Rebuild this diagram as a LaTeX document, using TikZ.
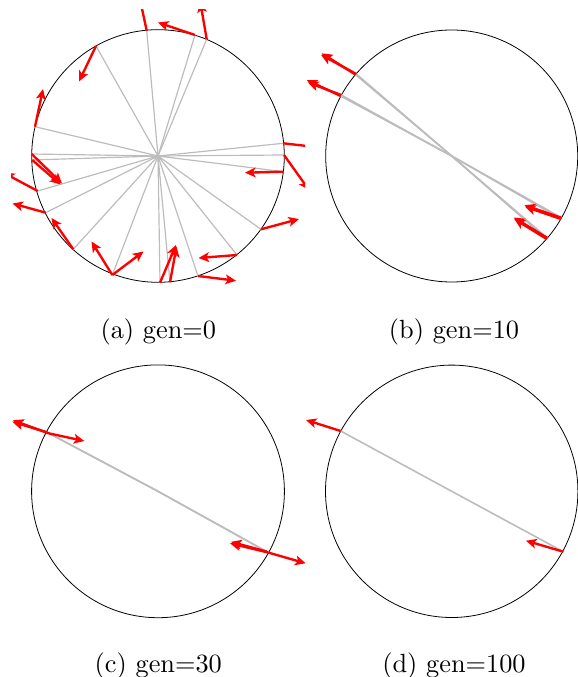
\documentclass[tikz,border=0pt]{standalone}
\usetikzlibrary{arrows.meta}
\definecolor{raygray}{RGB}{188,188,188}
\begin{document}
\begin{tikzpicture}[x=0.38pt,y=-0.38pt,
  circ/.style={draw=black,line width=0.3pt},
  ray/.style={draw=raygray,line width=0.45pt},
  bray/.style={draw=raygray,line width=0.6pt},
  vel/.style={draw=red,line width=0.9pt,-{Stealth[length=4pt,width=3.7pt,inset=1pt]}},
  captxt/.style={anchor=base,font=\normalsize}]
\useasboundingbox (0,0) rectangle (578,677);

% ---------- (a) gen=0 ----------
\begin{scope}
\clip (11,10) rectangle (305,303);
\coordinate (A) at (158,156);
\draw[circ] (A) circle[radius=126.3];
\foreach \n/\p in {1/{146.7,30.7},2/{195,35},3/{206.7,39.3},4/{96,46},5/{35,126.7},
  6/{31.7,154},7/{32.2,160},8/{37.7,191},9/{45.7,212.7},10/{73.3,249.3},11/{112.3,275},
  12/{160,282.7},13/{170,282.3},14/{198,276},15/{237,255},16/{261,229.3},
  17/{283.3,171.7},18/{284,155},19/{283.3,143.3}}{
  \coordinate (a\n) at (\p);
  \draw[ray] (A) -- (a\n);
}
\foreach \n/\q in {1/{139.5,-3},2/{158,22.5},3/{200.3,2},4/{79,81.5},5/{43,89},
  6/{62,183.5},7/{60.5,184.5},8/{4,173},9/{12.5,203.5},10/{51.5,218},11/{91.5,241.5},
  12/{176,245},13/{176.5,246.5},14/{236,280.7},15/{198.5,258},16/{299,219},
  17/{245,172.7},18/{309,190},19/{320,147.5}}{
  \coordinate (va\n) at (\q);
  \draw[vel] (a\n) -- (va\n);
}
\coordinate (va11b) at (143.5,251.5);
\draw[vel] (a11) -- (va11b);
\end{scope}

% ---------- (b) gen=10 ----------
\begin{scope}
\clip (304.7,10) rectangle (598.7,303);
\coordinate (B) at (451.7,156);
\draw[circ] (B) circle[radius=126];
\coordinate (b1) at (355.5,74.6);   \coordinate (b1x) at (356.3,74);
\coordinate (b2) at (340.7,96);     \coordinate (b2x) at (341.2,95);
\coordinate (b3) at (561,219);      \coordinate (b3x) at (561.5,217.8);
\coordinate (b4) at (546.7,239);    \coordinate (b4x) at (547.4,238);
\foreach \n in {b1,b1x,b2,b2x,b3,b3x,b4,b4x}{\draw[bray] (B) -- (\n);}
\coordinate (vb1) at (321.7,53.3);  \coordinate (vb1x) at (321,54.8);
\coordinate (vb2) at (306.7,80);    \coordinate (vb2x) at (308,82.5);
\coordinate (vb3) at (525,206.7);   \coordinate (vb3x) at (524.5,205.2);
\coordinate (vb4) at (514.3,219);   \coordinate (vb4x) at (513.8,217.5);
\draw[vel] (b1) -- (vb1); \draw[vel] (b1x) -- (vb1x);
\draw[vel] (b2) -- (vb2); \draw[vel] (b2x) -- (vb2x);
\draw[vel] (b3) -- (vb3); \draw[vel] (b3x) -- (vb3x);
\draw[vel] (b4) -- (vb4); \draw[vel] (b4x) -- (vb4x);
\end{scope}

% ---------- (c) gen=30 ----------
\begin{scope}
\clip (11,344) rectangle (305,638);
\coordinate (C) at (158,491.3);
\draw[circ] (C) circle[radius=126.4];
\coordinate (c1) at (47.5,432.5);  \coordinate (c1x) at (49,433.4);
\coordinate (c2) at (268,552.5);   \coordinate (c2x) at (266.8,551.6);
\foreach \n in {c1,c1x,c2,c2x}{\draw[bray] (C) -- (\n);}
\coordinate (vc1) at (12.3,421.7); \coordinate (vc1x) at (13,420.3);
\coordinate (vc1r) at (84.3,441);
\coordinate (vc2) at (230,543.3);  \coordinate (vc2x) at (231,541.8);
\coordinate (vc2r) at (305.7,563.3);
\draw[vel] (c1) -- (vc1); \draw[vel] (c1x) -- (vc1x);
\draw[vel] (c1x) -- (vc1r);
\draw[vel] (c2) -- (vc2); \draw[vel] (c2x) -- (vc2x);
\draw[vel] (c2) -- (vc2r);
\end{scope}

% ---------- (d) gen=100 ----------
\begin{scope}
\clip (304.7,344) rectangle (598.7,638);
\coordinate (D) at (451.7,491.3);
\draw[circ] (D) circle[radius=126.2];
\coordinate (d1) at (340.7,431);
\coordinate (d2) at (563.3,551.7);
\draw[bray] (D) -- (d1);
\draw[bray] (D) -- (d2);
\coordinate (vd1) at (306,420);
\coordinate (vd2) at (526,540.7);
\draw[vel] (d1) -- (vd1);
\draw[vel] (d2) -- (vd2);
\end{scope}

% ---------- captions ----------
\node[captxt] (capa) at (158.3,338) {(a) gen=0};
\node[captxt] (capb) at (454,338) {(b) gen=10};
\node[captxt] (capc) at (158.3,672) {(c) gen=30};
\node[captxt] (capd) at (454,672) {(d) gen=100};
\end{tikzpicture}
\end{document}
